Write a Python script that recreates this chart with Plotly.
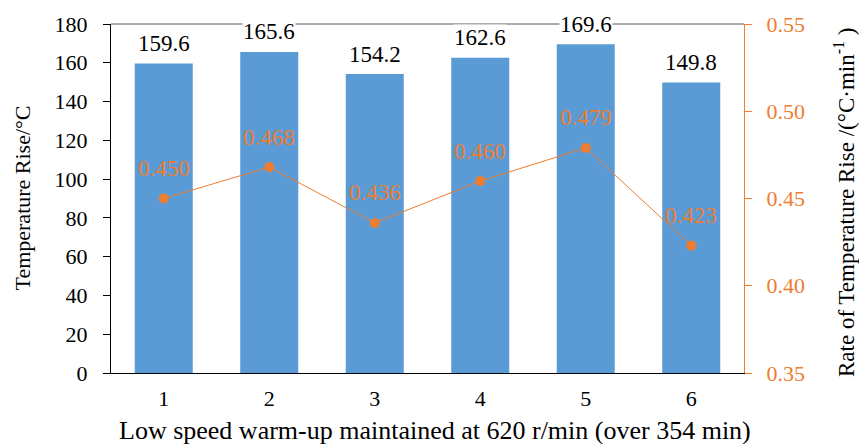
import plotly.graph_objects as go

categories = ["1", "2", "3", "4", "5", "6"]
temp_rise = [159.6, 165.6, 154.2, 162.6, 169.6, 149.8]
rate_rise = [0.450, 0.468, 0.436, 0.460, 0.479, 0.423]

x_title = "Low speed warm-up maintained at 620 r/min (over 354 min)"
y_title = "Temperature Rise/°C"
y2_title = "Rate of Temperature Rise /(°C·min<sup>-1</sup> )"

BLUE = "#5B9BD5"
ORANGE = "#ED7D31"
FONT = "Times New Roman, Liberation Serif, serif"

fig = go.Figure()
fig.add_trace(go.Bar(x=categories, y=temp_rise, marker=dict(color=BLUE, line=dict(width=0)),
                     width=0.55, yaxis="y", showlegend=False))
fig.add_trace(go.Scatter(x=categories, y=rate_rise, yaxis="y2", mode="lines+markers",
                         line=dict(color=ORANGE, width=1), marker=dict(color=ORANGE, size=10),
                         showlegend=False, cliponaxis=False))

annotations = []
for i, v in enumerate(temp_rise):
    annotations.append(dict(x=i, y=v, xref="x", yref="y", text=f"{v:.1f}", showarrow=False,
                            yanchor="middle", yshift=20, bgcolor="white", borderpad=0,
                            font=dict(family=FONT, size=23, color="black")))
for i, v in enumerate(rate_rise):
    annotations.append(dict(x=i, y=v, xref="x", yref="y2", text=f"{v:.3f}", showarrow=False,
                            yanchor="middle", yshift=30,
                            font=dict(family=FONT, size=23, color=ORANGE)))

# axis titles
annotations.append(dict(x=-0.1406, y=0.5, xref="paper", yref="paper", text=y_title,
                        textangle=-90, showarrow=False, xanchor="center", yanchor="middle",
                        font=dict(family=FONT, size=22, color="black")))
annotations.append(dict(x=1.1596, y=0.49, xref="paper", yref="paper", text=y2_title,
                        textangle=-90, showarrow=False, xanchor="center", yanchor="middle",
                        font=dict(family=FONT, size=23, color="black")))
annotations.append(dict(x=0.512, y=-0.166, xref="paper", yref="paper", text=x_title,
                        showarrow=False, xanchor="center", yanchor="middle",
                        font=dict(family=FONT, size=26, color="black")))

fig.update_layout(
    width=859, height=444,
    margin=dict(l=111, r=115, t=24, b=71),
    paper_bgcolor="white", plot_bgcolor="white",
    font=dict(family=FONT, size=22, color="black"),
    bargap=0.45,
    xaxis=dict(type="category", range=[-0.5, 5.5], showline=True, linecolor="black", linewidth=1,
               ticks="", showgrid=False, tickfont=dict(family=FONT, size=22, color="black"),
               zeroline=False, ticklabelstandoff=6),
    yaxis=dict(range=[0, 180], dtick=20, showline=True, linecolor="black", linewidth=1,
               ticks="outside", ticklen=7, tickcolor="black", showgrid=False, zeroline=False,
               tickfont=dict(family=FONT, size=22, color="black"), ticklabelstandoff=11),
    yaxis2=dict(range=[0.35, 0.55], dtick=0.05, tickformat=".2f", overlaying="y", side="right",
                showline=True, linecolor=ORANGE, linewidth=1, ticks="outside", ticklen=7,
                tickcolor=ORANGE, tickfont=dict(family=FONT, size=22, color=ORANGE), showgrid=False,
                zeroline=False, ticklabelstandoff=10),
    shapes=[dict(type="line", xref="x domain", yref="y domain", x0=0, x1=1, y0=1, y1=1,
                 line=dict(color="#595959", width=1), layer="below")],
    annotations=annotations,
)

fig.write_html("out.html")
